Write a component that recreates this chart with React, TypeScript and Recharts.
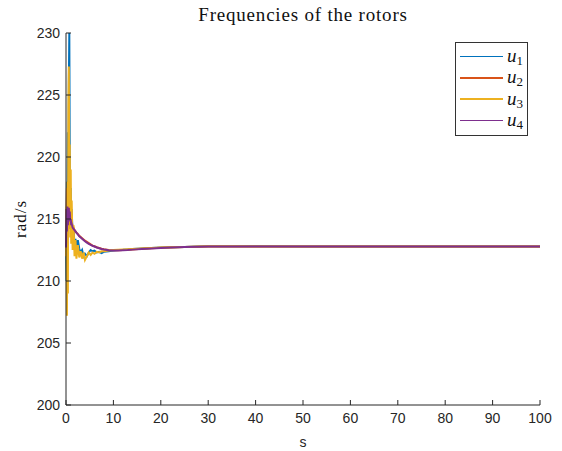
import React from "react";
import { LineChart, Line, XAxis, YAxis, Legend } from "recharts";

// sample times (s) and rotor speeds (rad/s)
const time = [
  0, 0.1, 0.2, 0.3, 0.4, 0.5, 0.6, 0.7, 0.8, 0.9, 1.0, 1.1, 1.2, 1.4, 1.6, 1.8,
  2.0, 2.2, 2.5, 2.8, 3.1, 3.4, 3.7, 4.0, 4.4, 4.8, 5.2, 5.6, 6, 6.5, 7, 7.5, 8,
  9, 10, 11, 12, 13, 14, 16, 18, 20, 22, 25, 28, 30, 35, 40, 50, 60, 70, 80, 90, 100,
];

const u1 = [
  212.8, 210, 218, 214, 222, 216, 226, 230, 219, 215, 217.5, 214, 215.8, 213.5, 214.2, 212.8,
  213.4, 212.4, 213.3, 212.6, 212.3, 212.5, 212.0, 212.2, 212.0, 212.3, 212.5, 212.4, 212.45, 212.3, 212.35, 212.25, 212.35,
  212.4, 212.45, 212.5, 212.52, 212.55, 212.58, 212.62, 212.66, 212.7, 212.72, 212.75, 212.78, 212.8, 212.8, 212.8, 212.78, 212.78, 212.78, 212.78, 212.78, 212.78,
];

const u2 = [
  213, 215.5, 217.5, 214, 216.8, 215, 217, 214.5, 216, 214.2, 215.3, 214.3, 214.8, 214.4, 214.3, 214.1,
  214.0, 213.9, 213.8, 213.65, 213.55, 213.45, 213.35, 213.25, 213.15, 213.05, 212.95, 212.85, 212.8, 212.72, 212.66, 212.6, 212.56,
  212.5, 212.48, 212.48, 212.5, 212.52, 212.55, 212.6, 212.65, 212.68, 212.71, 212.74, 212.77, 212.78, 212.79, 212.79, 212.78, 212.78, 212.78, 212.78, 212.78, 212.78,
];

const u3 = [
  212, 216, 207.2, 218, 209, 224, 227.3, 218, 221, 213.5, 219, 213, 216.5, 212.5, 214.5, 212,
  213.3, 211.8, 212.9, 211.9, 212.4, 211.8, 212.3, 211.7, 212.0, 212.3, 212.1, 212.3, 212.2, 212.35, 212.3, 212.4, 212.4,
  212.45, 212.5, 212.52, 212.54, 212.56, 212.58, 212.62, 212.66, 212.7, 212.72, 212.75, 212.78, 212.8, 212.8, 212.79, 212.78, 212.78, 212.78, 212.78, 212.78, 212.78,
];

const u4 = [
  212.7, 215.8, 214, 216, 214.5, 215.5, 215.9, 215, 215.6, 214.8, 215, 214.5, 214.6, 214.3, 214.2, 214.1,
  214.0, 213.9, 213.75, 213.6, 213.5, 213.4, 213.3, 213.2, 213.1, 213.0, 212.92, 212.84, 212.78, 212.7, 212.64, 212.58, 212.54,
  212.48, 212.45, 212.45, 212.48, 212.5, 212.53, 212.58, 212.63, 212.67, 212.7, 212.74, 212.77, 212.78, 212.79, 212.79, 212.78, 212.78, 212.78, 212.78, 212.78, 212.78,
];

const xTicks = [0, 10, 20, 30, 40, 50, 60, 70, 80, 90, 100];
const yTicks = [200, 205, 210, 215, 220, 225, 230];

const series = [
  { key: "u1", label: "1", color: "#0072BD" },
  { key: "u2", label: "2", color: "#D95319" },
  { key: "u3", label: "3", color: "#EDB120" },
  { key: "u4", label: "4", color: "#7E2F8E" },
];

const data = time.map((t, i) => ({ t, u1: u1[i], u2: u2[i], u3: u3[i], u4: u4[i] }));

const AXIS = "#262626";
const SANS = "'Liberation Sans', Arial, Helvetica, sans-serif";
const SERIF = "'Liberation Serif', 'Times New Roman', serif";

// ticks drawn inward, matlab style
const XTick = (props: any) => {
  const { x, y, payload } = props;
  return (
    <g>
      <line x1={x} y1={y} x2={x} y2={y - 5} stroke={AXIS} strokeWidth={1} />
      <text x={x} y={y + 18} textAnchor="middle" fill={AXIS} fontSize={14} fontFamily={SANS}>
        {payload.value}
      </text>
    </g>
  );
};

const YTick = (props: any) => {
  const { x, y, payload } = props;
  return (
    <g>
      <line x1={x} y1={y} x2={x + 5} y2={y} stroke={AXIS} strokeWidth={1} />
      <text x={x - 6} y={y + 5} textAnchor="end" fill={AXIS} fontSize={14} fontFamily={SANS}>
        {payload.value}
      </text>
    </g>
  );
};

const LegendBox = () => (
  <div
    style={{
      border: "1px solid #333",
      background: "#fff",
      width: 71,
      padding: "3px 0 4px 0",
      boxSizing: "content-box",
    }}
  >
    {series.map((s) => (
      <div key={s.key} style={{ display: "flex", alignItems: "center", height: 21.3 }}>
        <div style={{ width: 43, height: 1.5, background: s.color, marginLeft: 4, marginRight: 4 }} />
        <span style={{ fontFamily: SERIF, fontStyle: "italic", fontSize: 19, color: "#111", lineHeight: 1 }}>
          u
          <sub style={{ fontStyle: "normal", fontSize: 13, verticalAlign: -3 }}>{s.label}</sub>
        </span>
      </div>
    ))}
  </div>
);

export default function App() {
  return (
    <div style={{ position: "absolute", left: 0, top: 0, width: 562, height: 451, background: "#fff" }}>
      <LineChart width={562} height={451} data={data} margin={{ top: 33, right: 22, bottom: 0, left: 26 }}>
        <XAxis
          dataKey="t"
          type="number"
          domain={[0, 100]}
          ticks={xTicks}
          height={46}
          tickSize={0}
          tickMargin={0}
          tickLine={false}
          tick={XTick}
          axisLine={{ stroke: AXIS, strokeWidth: 1 }}
        />
        <YAxis
          type="number"
          domain={[200, 230]}
          ticks={yTicks}
          width={40}
          tickSize={0}
          tickMargin={0}
          tickLine={false}
          tick={YTick}
          allowDataOverflow
          axisLine={{ stroke: AXIS, strokeWidth: 1 }}
        />
        <Legend
          layout="horizontal"
          verticalAlign="middle"
          align="center"
          content={LegendBox}
          wrapperStyle={{ position: "absolute", left: 455, top: 42, width: 73 }}
        />
        {series.map((s) => (
          <Line
            key={s.key}
            dataKey={s.key}
            type="linear"
            stroke={s.color}
            strokeWidth={2}
            dot={false}
            isAnimationActive={false}
          />
        ))}
        <text x={303} y={21} textAnchor="middle" fontFamily={SERIF} fontSize={19} letterSpacing={0.8} fill="#111">
          Frequencies of the rotors
        </text>
        <text
          x={26}
          y={219}
          textAnchor="middle"
          fontFamily={SERIF}
          fontSize={17}
          letterSpacing={1}
          fill="#111"
          transform="rotate(-90 26 219)"
        >
          rad/s
        </text>
        <text x={303} y={447} textAnchor="middle" fontFamily={SANS} fontSize={14} fill={AXIS}>
          s
        </text>
      </LineChart>
    </div>
  );
}
